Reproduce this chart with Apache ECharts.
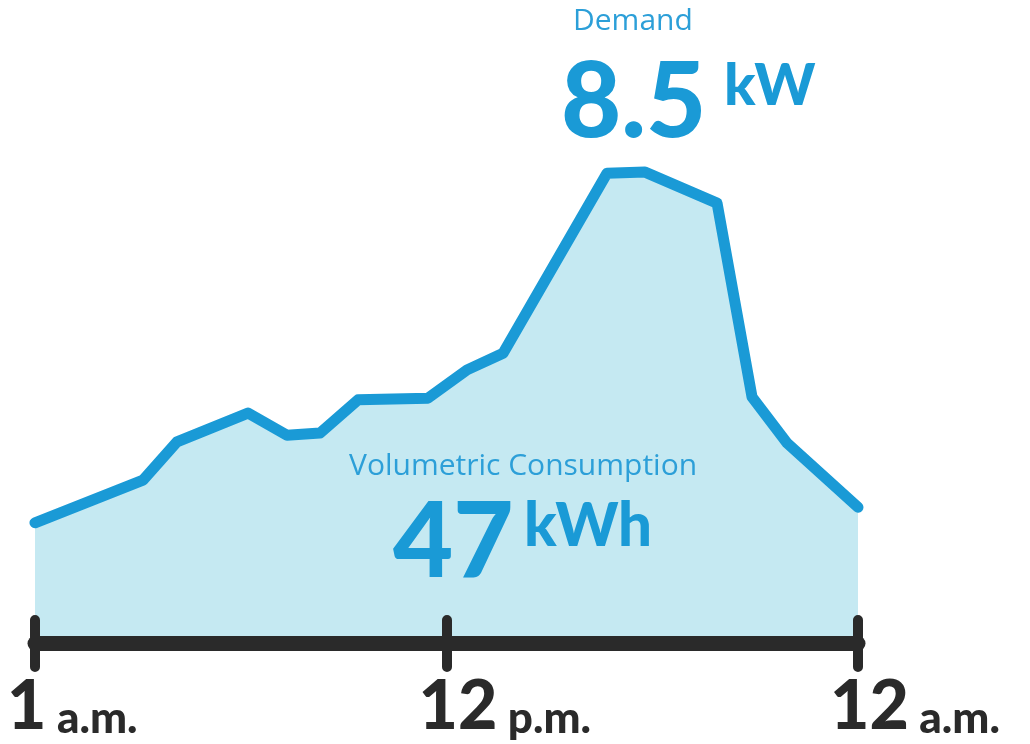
<!DOCTYPE html>
<html>
<head>
<meta charset="utf-8">
<script src="https://cdn.jsdelivr.net/npm/echarts@6/dist/echarts.min.js"></script>
<style>
  html, body { margin: 0; padding: 0; background: #fff; }
  #chart { width: 1030px; height: 744px; }
</style>
</head>
<body>
<div id="chart"></div>
<script>
// hours since 1 a.m. (0 = 1 a.m., 12 = 12 p.m., 24 = 12 a.m.)
const hours = [0, 3.15, 4.14, 6.21, 7.35, 8.31, 9.42, 11.46, 12.6, 13.65, 16.68, 17.79, 19.89, 20.91, 21.93, 24];
// load in kW
const load = [2.17, 2.94, 3.63, 4.15, 3.75, 3.79, 4.39, 4.42, 4.93, 5.23, 8.48, 8.5, 7.94, 4.44, 3.61, 2.45];
const tickLabels = [['1', 'a.m.'], ['12', 'p.m.'], ['12', 'a.m.']];

const demandValue = '8.5';
const consumptionValue = '47';

const blue = '#1a9ad6';
const dark = '#2a2a2a';

const chart = echarts.init(document.getElementById('chart'));

const option = {
  animation: false,
  grid: { left: 35, right: 172, top: 89, bottom: 101, outerBoundsMode: 'none' },
  title: [
    { text: 'Demand', left: 568, top: 1,
      textStyle: { fontFamily: 'Open Sans', fontWeight: 400, fontSize: 30, color: '#2c9fd8' } },
    { text: demandValue, left: 556, top: 46,
      textStyle: { fontFamily: 'Lato', fontWeight: 900, fontSize: 104, color: blue } },
    { text: 'kW', left: 719, top: 52,
      textStyle: { fontFamily: 'Lato', fontWeight: 900, fontSize: 58, color: blue } },
    { text: 'Volumetric Consumption', left: 344, top: 446,
      textStyle: { fontFamily: 'Open Sans', fontWeight: 400, fontSize: 30, color: '#2c9fd8' } },
    { text: consumptionValue, left: 388, top: 486,
      textStyle: { fontFamily: 'Lato', fontWeight: 900, fontSize: 104, color: blue } },
    { text: 'kWh', left: 519, top: 492,
      textStyle: { fontFamily: 'Lato', fontWeight: 900, fontSize: 60, color: blue } }
  ],
  xAxis: [
    {
      type: 'value', min: 0, max: 24, interval: 12, position: 'bottom', z: 5,
      axisLine: { show: true, lineStyle: { color: dark, width: 15 } },
      axisTick: { show: true, length: 24, lineStyle: { color: dark, width: 10, cap: 'round' } },
      splitLine: { show: false },
      axisLabel: {
        show: true, margin: 30, align: 'left', padding: [0, 0, 0, -28],
        formatter: function (v) {
          const t = tickLabels[Math.round(v / 12)];
          return '{big|' + t[0] + '}{small| ' + t[1] + '}';
        },
        rich: {
          big: { fontFamily: 'Lato', fontWeight: 900, fontSize: 68, color: dark, verticalAlign: 'bottom' },
          small: { fontFamily: 'Lato', fontWeight: 900, fontSize: 44, color: dark, verticalAlign: 'bottom' }
        }
      }
    },
    {
      type: 'value', min: 0, max: 24, interval: 12, position: 'bottom', z: 5,
      axisLine: { show: false },
      axisTick: { show: true, inside: true, length: 23, lineStyle: { color: dark, width: 10, cap: 'round' } },
      splitLine: { show: false },
      axisLabel: { show: false }
    }
  ],
  yAxis: { type: 'value', min: 0, max: 10, show: false },
  series: [
    {
      type: 'line',
      xAxisIndex: 0,
      data: hours.map((h, i) => [h, load[i]]),
      symbol: 'none',
      lineStyle: { color: blue, width: 11, cap: 'round', join: 'round' },
      areaStyle: { color: '#c5e9f2', opacity: 1 },
      z: 1
    }
  ]
};

chart.setOption(option);
</script>
</body>
</html>
